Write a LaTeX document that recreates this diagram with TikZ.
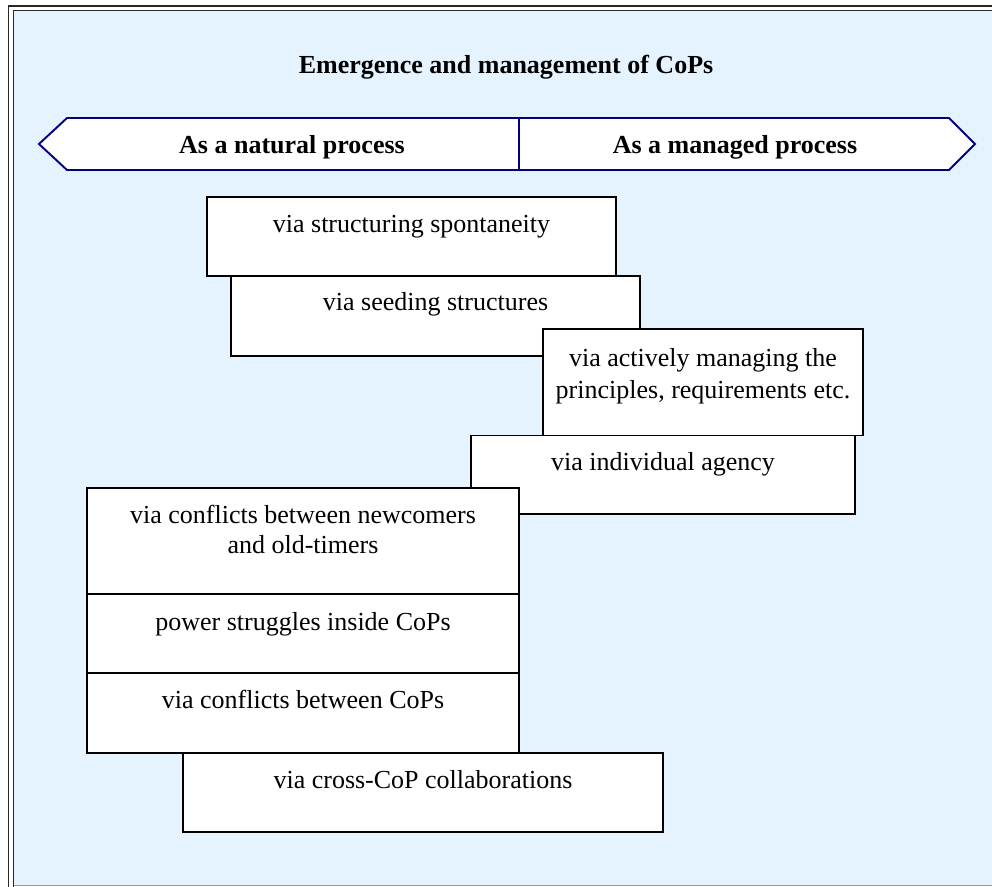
\documentclass[tikz,border=0pt]{standalone}
\usepackage{fontspec}
\setmainfont{Liberation Serif}
\definecolor{panel}{RGB}{229,243,255}
\definecolor{navyline}{RGB}{0,0,128}
\definecolor{frameline}{RGB}{40,40,40}
\begin{document}
\begin{tikzpicture}[x=1pt,y=-1pt,
  stepbox/.style={draw=black,line width=1.9pt,fill=white},
  txt/.style={anchor=base,inner sep=0pt,font=\fontsize{26}{30}\selectfont},
  head/.style={anchor=base,inner sep=0pt,font=\fontsize{26}{30}\selectfont\bfseries},
  arrowband/.style={draw=navyline,line width=1.9pt,fill=white,line join=miter}]
\useasboundingbox (0,0) rectangle (992,886);
\fill[white] (0,0) rectangle (992,886);

% double frame and panel
\fill[panel] (13.5,10.5) rectangle (1000,885);
\draw[frameline,line width=1.8pt] (8.5,900) -- (8.5,6) -- (1000,6);
\draw[frameline,line width=1.3pt] (13.5,900) -- (13.5,10.5) -- (1000,10.5);
\draw[gray!80,line width=1.5pt] (13.5,885.5) -- (1000,885.5);

% title
\node[head] (title) at (506,73) {Emergence and management of CoPs};

% two-headed band
\draw[arrowband] (39,144) -- (67,118) -- (949,118) -- (975,144) -- (949,170) -- (67,170) -- cycle;
\draw[navyline,line width=1.4pt] (519,118) -- (519,170);
\node[head] (natural) at (292,153) {As a natural process};
\node[head] (managed) at (735,153) {As a managed process};

% upper staircase of boxes
\draw[stepbox] (207,197) rectangle (616,276);
\node[txt] (spont) at (411.5,232) {via structuring spontaneity};

\draw[stepbox] (231,276) rectangle (640,356);
\node[txt] (seed) at (435.5,310) {via seeding structures};

\draw[stepbox] (543,329) rectangle (863,435.5);
\node[txt] (actA) at (703,366) {via actively managing the};
\node[txt] (actB) at (703,398) {principles, requirements etc.};

\draw[stepbox] (471,435.5) rectangle (855,514);
\node[txt] (agency) at (663,470) {via individual agency};

% lower stack of boxes
\draw[stepbox] (87,488) rectangle (519,594);
\node[txt] (newA) at (303,523) {via conflicts between newcomers};
\node[txt] (newB) at (303,553) {and old-timers};

\draw[stepbox] (87,594) rectangle (519,673);
\node[txt] (power) at (303,630) {power struggles inside CoPs};

\draw[stepbox] (87,673) rectangle (519,753);
\node[txt] (between) at (303,708) {via conflicts between CoPs};

\draw[stepbox] (183,753) rectangle (663,832);
\node[txt] (cross) at (423,788) {via cross-CoP collaborations};
\end{tikzpicture}
\end{document}
